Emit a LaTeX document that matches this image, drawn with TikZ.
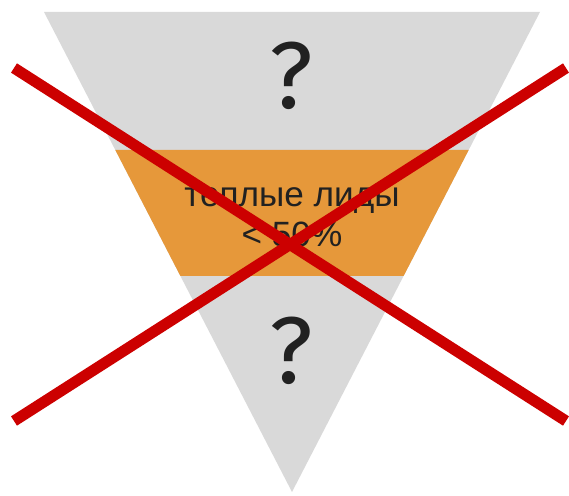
\documentclass[tikz,border=0pt]{standalone}
\usepackage{fontspec}
\setmainfont{Liberation Sans}
\newfontfamily\qfont{Fira Sans}
\usetikzlibrary{calc}
\definecolor{funnelgrey}{HTML}{D9D9D9}
\definecolor{warmband}{HTML}{E6983A}
\definecolor{crossred}{HTML}{CC0000}
\definecolor{ink}{HTML}{212121}

\begin{document}
\begin{tikzpicture}[x=0.02cm,y=-0.02cm]
        \useasboundingbox (0,0) rectangle (569,496);
        % funnel corners
        \coordinate (topleft) at (44,12);
        \coordinate (topright) at (540,12);
        \coordinate (apex) at (292,492);
        \fill[funnelgrey] (topleft) -- (topright) -- (apex) -- cycle;
        % warm leads band
        \fill[warmband]
          ($(topleft)!0.2875!(apex)$) -- ($(topright)!0.2875!(apex)$) --
          ($(topright)!0.55!(apex)$) -- ($(topleft)!0.55!(apex)$) -- cycle;
        \node[text=ink, font=\qfont\fontsize{54}{60}\selectfont] (topq) at (291,76) {?};
        \node[text=ink, font=\qfont\fontsize{54}{60}\selectfont] (botq) at (291,351) {?};
        \node[
          text=ink,
          align=center,
          font=\fontsize{20}{23}\selectfont
        ] (warm) at (292,217) {теплые лиды\\< 50\%};
        % crossing out
        \coordinate (xa) at (14,68);
        \coordinate (xb) at (566,421);
        \coordinate (xc) at (14,421);
        \coordinate (xd) at (566,68);
        \draw[crossred, line width=6.3pt] (xa) -- (xb);
        \draw[crossred, line width=6.3pt] (xc) -- (xd);
      \end{tikzpicture}
\end{document}
